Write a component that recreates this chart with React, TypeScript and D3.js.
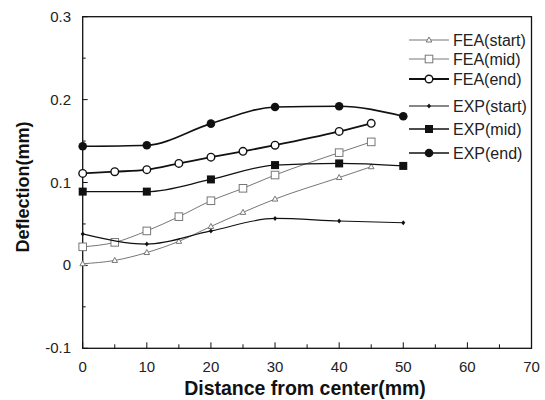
import React from "react";
import * as d3 from "d3";

const feaX = [0, 5, 10, 15, 20, 25, 30, 40, 45];
const feaStart = [0.002, 0.006, 0.0155, 0.029, 0.047, 0.064, 0.08, 0.106, 0.119];
const feaMid = [0.0224, 0.0278, 0.0416, 0.0588, 0.078, 0.093, 0.109, 0.136, 0.149];
const feaEnd = [0.111, 0.113, 0.1155, 0.123, 0.1306, 0.1376, 0.145, 0.1616, 0.1714];

const expX = [0, 10, 20, 30, 40, 50];
const expStart = [0.038, 0.0257, 0.0416, 0.0567, 0.0535, 0.0514];
const expMid = [0.089, 0.089, 0.1037, 0.121, 0.123, 0.12];
const expEnd = [0.1437, 0.145, 0.171, 0.191, 0.192, 0.18];

const xTicks = [0, 10, 20, 30, 40, 50, 60, 70];
const yTicks = [-0.1, 0, 0.1, 0.2, 0.3];
const yTickLabels = ["-0.1", "0", "0.1", "0.2", "0.3"];

type Marker = "tri" | "sq" | "circ" | "dot" | "fsq" | "fcirc";
type Series = { name: string; xs: number[]; ys: number[]; color: string; width: number; marker: Marker };

const series: Series[] = [
  { name: "FEA(start)", xs: feaX, ys: feaStart, color: "#777", width: 1, marker: "tri" },
  { name: "FEA(mid)", xs: feaX, ys: feaMid, color: "#777", width: 1, marker: "sq" },
  { name: "FEA(end)", xs: feaX, ys: feaEnd, color: "#111", width: 1.8, marker: "circ" },
  { name: "EXP(start)", xs: expX, ys: expStart, color: "#111", width: 1.1, marker: "dot" },
  { name: "EXP(mid)", xs: expX, ys: expMid, color: "#111", width: 1.3, marker: "fsq" },
  { name: "EXP(end)", xs: expX, ys: expEnd, color: "#111", width: 1.6, marker: "fcirc" },
];

const legendY = [40, 59, 79, 106, 129, 153];

const FONT = "'Liberation Sans', Arial, sans-serif";

function MarkerShape({ m, x, y, color }: { m: Marker; x: number; y: number; color: string }) {
  switch (m) {
    case "tri":
      return <path d={`M${x},${y - 3} L${x + 2.8},${y + 2} L${x - 2.8},${y + 2} Z`} fill="white" stroke={color} strokeWidth={1} />;
    case "sq":
      return <rect x={x - 3.8} y={y - 3.8} width={7.6} height={7.6} fill="white" stroke={color} strokeWidth={1} />;
    case "circ":
      return <circle cx={x} cy={y} r={3.8} fill="white" stroke={color} strokeWidth={1.4} />;
    case "dot":
      return <path d={`M${x},${y - 2.5} L${x + 2},${y} L${x},${y + 2.5} L${x - 2},${y} Z`} fill={color} />;
    case "fsq":
      return <rect x={x - 4} y={y - 4} width={8} height={8} fill={color} />;
    case "fcirc":
      return <circle cx={x} cy={y} r={4.3} fill={color} />;
  }
}

export default function App() {
  const W = 545, H = 400;
  const x = d3.scaleLinear().domain([0, 70]).range([82.7, 531.5]);
  const y = d3.scaleLinear().domain([-0.1, 0.3]).range([348.3, 16.7]);
  const line = d3
    .line<[number, number]>()
    .x((d) => x(d[0]))
    .y((d) => y(d[1]))
    .curve(d3.curveMonotoneX);

  const xMinor = d3.range(0, 71, 5);
  const yMinor = d3.range(-0.1, 0.301, 0.05);

  return (
    <svg width={W} height={H} style={{ position: "absolute", left: 0, top: 0, background: "white" }} fontFamily={FONT}>
      <rect x={0} y={0} width={W} height={H} fill="white" />
      {/* frame */}
      <rect x={x(0)} y={y(0.3)} width={x(70) - x(0)} height={y(-0.1) - y(0.3)} fill="none" stroke="#111" strokeWidth={1.3} />
      {/* x ticks */}
      {xMinor.map((v) => (
        <line key={"xt" + v} x1={x(v)} x2={x(v)} y1={y(-0.1)} y2={y(-0.1) - (v % 10 === 0 ? 6 : 4)} stroke="#111" strokeWidth={1} />
      ))}
      {/* y ticks */}
      {yMinor.map((v, i) => (
        <line key={"yt" + i} x1={x(0)} x2={x(0) + (i % 2 === 0 ? 5 : 3)} y1={y(v)} y2={y(v)} stroke="#111" strokeWidth={1} />
      ))}
      {/* tick labels */}
      {xTicks.map((v) => (
        <text key={"xl" + v} x={x(v)} y={372} textAnchor="middle" fontSize={15} fill="#222">
          {v}
        </text>
      ))}
      {yTicks.map((v, i) => (
        <text key={"yl" + v} x={71} y={y(v) + 5} textAnchor="end" fontSize={15} fill="#222">
          {yTickLabels[i]}
        </text>
      ))}
      {/* axis titles */}
      <text x={305} y={395} textAnchor="middle" fontSize={19.5} fontWeight="bold" fill="#111">
        Distance from center(mm)
      </text>
      <text transform={`translate(29,${187}) rotate(-90)`} textAnchor="middle" fontSize={18} fontWeight="bold" fill="#111">
        Deflection(mm)
      </text>
      {/* series */}
      {series.map((s) => {
        const pts: [number, number][] = s.xs.map((v, i) => [v, s.ys[i]]);
        return (
          <g key={s.name}>
            <path d={line(pts) || ""} fill="none" stroke={s.color} strokeWidth={s.width} />
            {pts.map((p, i) => (
              <MarkerShape key={i} m={s.marker} x={x(p[0])} y={y(p[1])} color={s.color} />
            ))}
          </g>
        );
      })}
      {/* legend */}
      {series.map((s, i) => (
        <g key={"lg" + s.name}>
          <line x1={409} x2={449} y1={legendY[i]} y2={legendY[i]} stroke={s.color} strokeWidth={s.width} />
          <MarkerShape m={s.marker} x={429} y={legendY[i]} color={s.color} />
          <text x={453} y={legendY[i] + 5.5} fontSize={16} fill="#222">
            {s.name}
          </text>
        </g>
      ))}
    </svg>
  );
}
